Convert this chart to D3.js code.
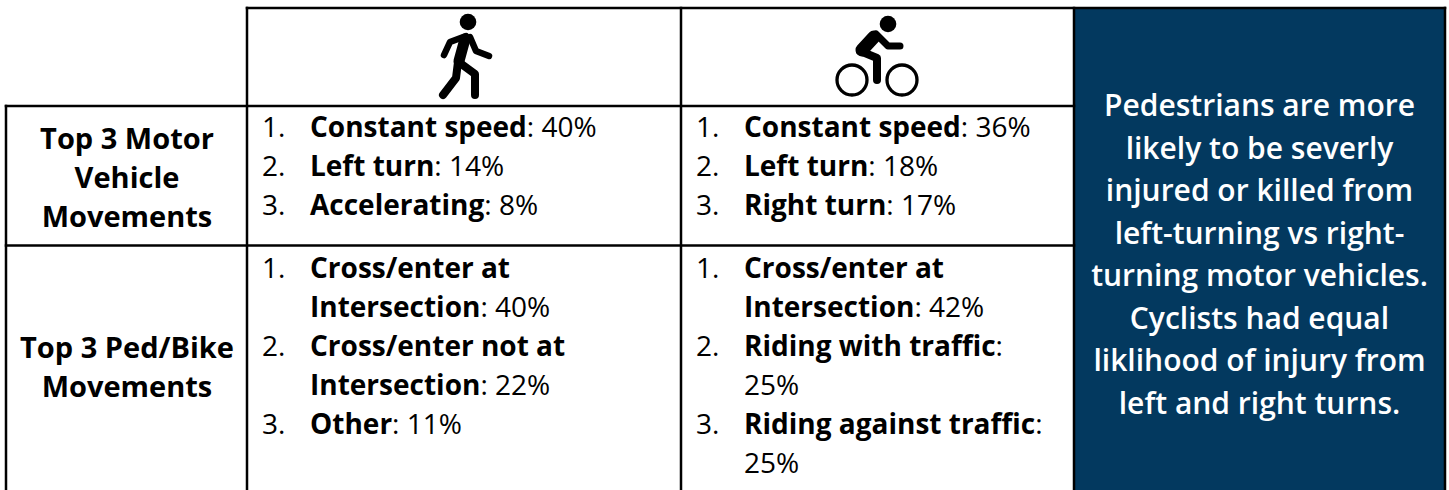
<!DOCTYPE html>
<html>
<head>
<meta charset="utf-8">
<script src="https://cdn.jsdelivr.net/npm/d3@7"></script>
<style>
    html, body { margin: 0; padding: 0; background: #fff; overflow: hidden; }
    text { font-family: "Open Sans", "Noto Sans", sans-serif; font-size: 28px; fill: #000; }
    .head { font-weight: 700; font-size: 29px; }
    .callout { font-weight: 600; fill: #fff; font-size: 30px; }
</style>
</head>
<body>
<div id="chart"></div>
<script>
// Row and column labels
const rowLabels = [
    ["Top 3 Motor", "Vehicle", "Movements"],
    ["Top 3 Ped/Bike", "Movements"]
];

// Each line: [list number or "", bold part, plain part]
const pedMotor = [
    ["1.", "Constant speed", ": 40%"],
    ["2.", "Left turn", ": 14%"],
    ["3.", "Accelerating", ": 8%"]
];
const bikeMotor = [
    ["1.", "Constant speed", ": 36%"],
    ["2.", "Left turn", ": 18%"],
    ["3.", "Right turn", ": 17%"]
];
const pedMoves = [
    ["1.", "Cross/enter at", ""],
    ["", "Intersection", ": 40%"],
    ["2.", "Cross/enter not at", ""],
    ["", "Intersection", ": 22%"],
    ["3.", "Other", ": 11%"]
];
const bikeMoves = [
    ["1.", "Cross/enter at", ""],
    ["", "Intersection", ": 42%"],
    ["2.", "Riding with traffic", ":"],
    ["", "", "25%"],
    ["3.", "Riding against traffic", ":"],
    ["", "", "25%"]
];
const calloutLines = [
    "Pedestrians are more",
    "likely to be severly",
    "injured or killed from",
    "left-turning vs right-",
    "turning motor vehicles.",
    "Cyclists had equal",
    "liklihood of injury from",
    "left and right turns."
];

function init() {
    var w = 1449;
    var h = 490;
    var navy = "#03395f";

    var svg = d3.select("#chart").append("svg")
        .attr("width", w)
        .attr("height", h)
        .style("display", "block");

    // Grid edges of the table
    var colX = [6, 247, 681, 1074, 1445];
    var rowY = [8, 106, 245.5, 490];

    // Blue callout panel
    svg.append("rect")
        .attr("x", colX[3])
        .attr("y", rowY[0])
        .attr("width", colX[4] - colX[3])
        .attr("height", h - rowY[0])
        .attr("fill", navy);

    // Table lines, the top left cell has no border
    var gridLines = [
        [colX[1], rowY[0], colX[4], rowY[0]],
        [colX[0], rowY[1], colX[3], rowY[1]],
        [colX[0], rowY[2], colX[3], rowY[2]],
        [colX[0], rowY[1], colX[0], h],
        [colX[1], rowY[0], colX[1], h],
        [colX[2], rowY[0], colX[2], h],
        [colX[3], rowY[0], colX[3], h],
        [colX[4], rowY[0], colX[4], h]
    ];
    svg.selectAll("line.grid").data(gridLines).enter().append("line")
        .attr("class", "grid")
        .attr("x1", d => d[0]).attr("y1", d => d[1])
        .attr("x2", d => d[2]).attr("y2", d => d[3])
        .attr("stroke", "#000")
        .attr("stroke-width", 2.5)
        .attr("stroke-linecap", "square");

    // Centered row headers
    function drawHeader(lines, firstY) {
        svg.append("g").selectAll("text").data(lines).enter().append("text")
            .attr("class", "head")
            .attr("x", 127)
            .attr("y", (d, i) => firstY + i * 39)
            .attr("text-anchor", "middle")
            .text(d => d);
    }
    drawHeader(rowLabels[0], 149);
    drawHeader(rowLabels[1], 358);

    // Numbered list cells
    function drawList(lines, colIndex, firstY) {
        var g = svg.append("g");
        lines.forEach((d, i) => {
            var y = firstY + i * 39;
            g.append("text").attr("x", colX[colIndex] + 15).attr("y", y).text(d[0]);
            var t = g.append("text").attr("x", colX[colIndex] + 63).attr("y", y);
            t.append("tspan").attr("font-weight", 700).text(d[1]);
            t.append("tspan").text(d[2]);
        });
    }
    drawList(pedMotor, 1, 137);
    drawList(bikeMotor, 2, 137);
    drawList(pedMoves, 1, 278);
    drawList(bikeMoves, 2, 278);

    // Callout text
    svg.append("g").selectAll("text").data(calloutLines).enter().append("text")
        .attr("class", "callout")
        .attr("x", 1259.5)
        .attr("y", (d, i) => 116 + i * 42.5)
        .attr("text-anchor", "middle")
        .text(d => d);

    // Walking figure, drawn in a small local space
    var walker = svg.append("g").attr("transform", "translate(468,22)");
    walker.append("circle").attr("r", 8.3).attr("fill", "#000");
    var walkerLimbs = [
        { w: 6.5, p: [[-2, 14], [-18, 20], [-24, 33]] },
        { w: 6.5, p: [[2, 15], [8, 29], [21, 34]] },
        { w: 11, p: [[-3, 17], [-9, 39]] },
        { w: 8, p: [[-10, 40], [-12, 56], [-25, 73]] },
        { w: 8, p: [[-8, 41], [7, 52], [7, 73]] }
    ];
    var limb = d3.line();
    walker.selectAll("path").data(walkerLimbs).enter().append("path")
        .attr("d", d => limb(d.p))
        .attr("fill", "none")
        .attr("stroke", "#000")
        .attr("stroke-width", d => d.w)
        .attr("stroke-linecap", "round")
        .attr("stroke-linejoin", "round");

    // Cyclist figure
    var rider = svg.append("g").attr("transform", "translate(888,24)");
    rider.append("circle").attr("r", 8.3).attr("fill", "#000");
    [[-36, 56], [14, 56]].forEach(c => {
        rider.append("circle")
            .attr("cx", c[0]).attr("cy", c[1]).attr("r", 15)
            .attr("fill", "none").attr("stroke", "#000").attr("stroke-width", 3.3);
    });
    var riderLimbs = [
        { w: 13, p: [[-14, 13], [-26, 26]] },
        { w: 7, p: [[-12, 10], [0, 22], [12, 22]] },
        { w: 8, p: [[-28, 27], [-11, 34], [-11, 56]] }
    ];
    rider.selectAll("path").data(riderLimbs).enter().append("path")
        .attr("d", d => limb(d.p))
        .attr("fill", "none")
        .attr("stroke", "#000")
        .attr("stroke-width", d => d.w)
        .attr("stroke-linecap", "round")
        .attr("stroke-linejoin", "round");
}

window.onload = init;
</script>
</body>
</html>
